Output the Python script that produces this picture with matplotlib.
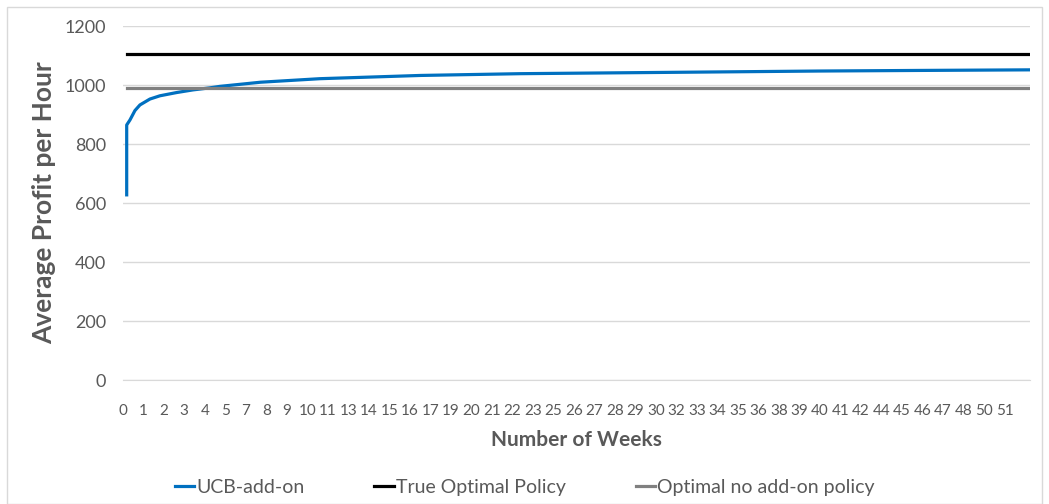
import matplotlib.pyplot as plt
import numpy as np
from matplotlib.patches import Rectangle

# data
weeks = [0.23, 0.23, 0.42, 0.71, 1.0, 1.58, 2.16, 3.13, 4.08, 5.07, 5.65,
         8.0, 11.45, 17.3, 23.1, 28.9, 34.7, 40.5, 46.3, 52.7]
ucb_profit = [628, 865, 882, 914, 933, 953, 964, 975, 984, 991, 996,
              1010, 1022, 1033, 1039, 1042, 1045, 1048, 1050, 1052]
true_optimal = 1105
no_addon_optimal = 992

week_labels = ['0', '1', '2', '3', '4', '5', '7', '8', '9', '10', '11', '13',
               '14', '15', '16', '17', '19', '20', '21', '22', '23', '25',
               '26', '27', '28', '29', '30', '32', '33', '34', '35', '36',
               '38', '39', '40', '41', '42', '44', '45', '46', '47', '48',
               '50', '51']

plt.rcParams['font.family'] = ['Lato', 'DejaVu Sans']
txt = '#595959'

fig = plt.figure(figsize=(10.49, 5.04), dpi=100)
ax = fig.add_axes([0.117, 0.246, 0.865, 0.702])

# chart border
fig.patches.append(Rectangle((0.007, 0.0), 0.986, 0.986, transform=fig.transFigure,
                             fill=False, edgecolor='#D9D9D9', linewidth=1))

x_end = weeks[-1]
ax.plot(weeks, ucb_profit, color='#0070C0', linewidth=2.3, label='UCB-add-on')
ax.plot([weeks[0], x_end], [true_optimal, true_optimal], color='black',
        linewidth=2.3, label='True Optimal Policy')
ax.plot([weeks[0], x_end], [no_addon_optimal, no_addon_optimal], color='#808080',
        linewidth=2.3, label='Optimal no add-on policy')

ax.set_xlim(0, 52.7)
ax.set_ylim(0, 1200)
ax.set_yticks(range(0, 1201, 200))
ax.set_xticks(np.arange(len(week_labels)) * 1.191)
ax.set_xticklabels(week_labels)
ax.tick_params(axis='x', length=0, labelsize=11, labelcolor=txt, pad=17)
ax.tick_params(axis='y', length=0, labelsize=13, labelcolor=txt, pad=12)

ax.grid(axis='y', color='#D9D9D9', linewidth=1)
ax.set_axisbelow(True)
for s in ['top', 'right', 'left']:
    ax.spines[s].set_visible(False)
ax.spines['bottom'].set_color('#D9D9D9')

ax.set_ylabel('Average Profit per Hour', fontsize=19, fontweight='bold',
              color=txt, labelpad=6)
ax.set_xlabel('Number of Weeks', fontsize=15, fontweight='bold', color=txt,
              labelpad=9)

leg = fig.legend(loc='lower center', bbox_to_anchor=(0.5, -0.018), ncol=3,
                 frameon=False, fontsize=14, handlelength=1.0,
                 handletextpad=0.1, columnspacing=3.6)
for t in leg.get_texts():
    t.set_color(txt)

fig.savefig('out.png', dpi=100)
